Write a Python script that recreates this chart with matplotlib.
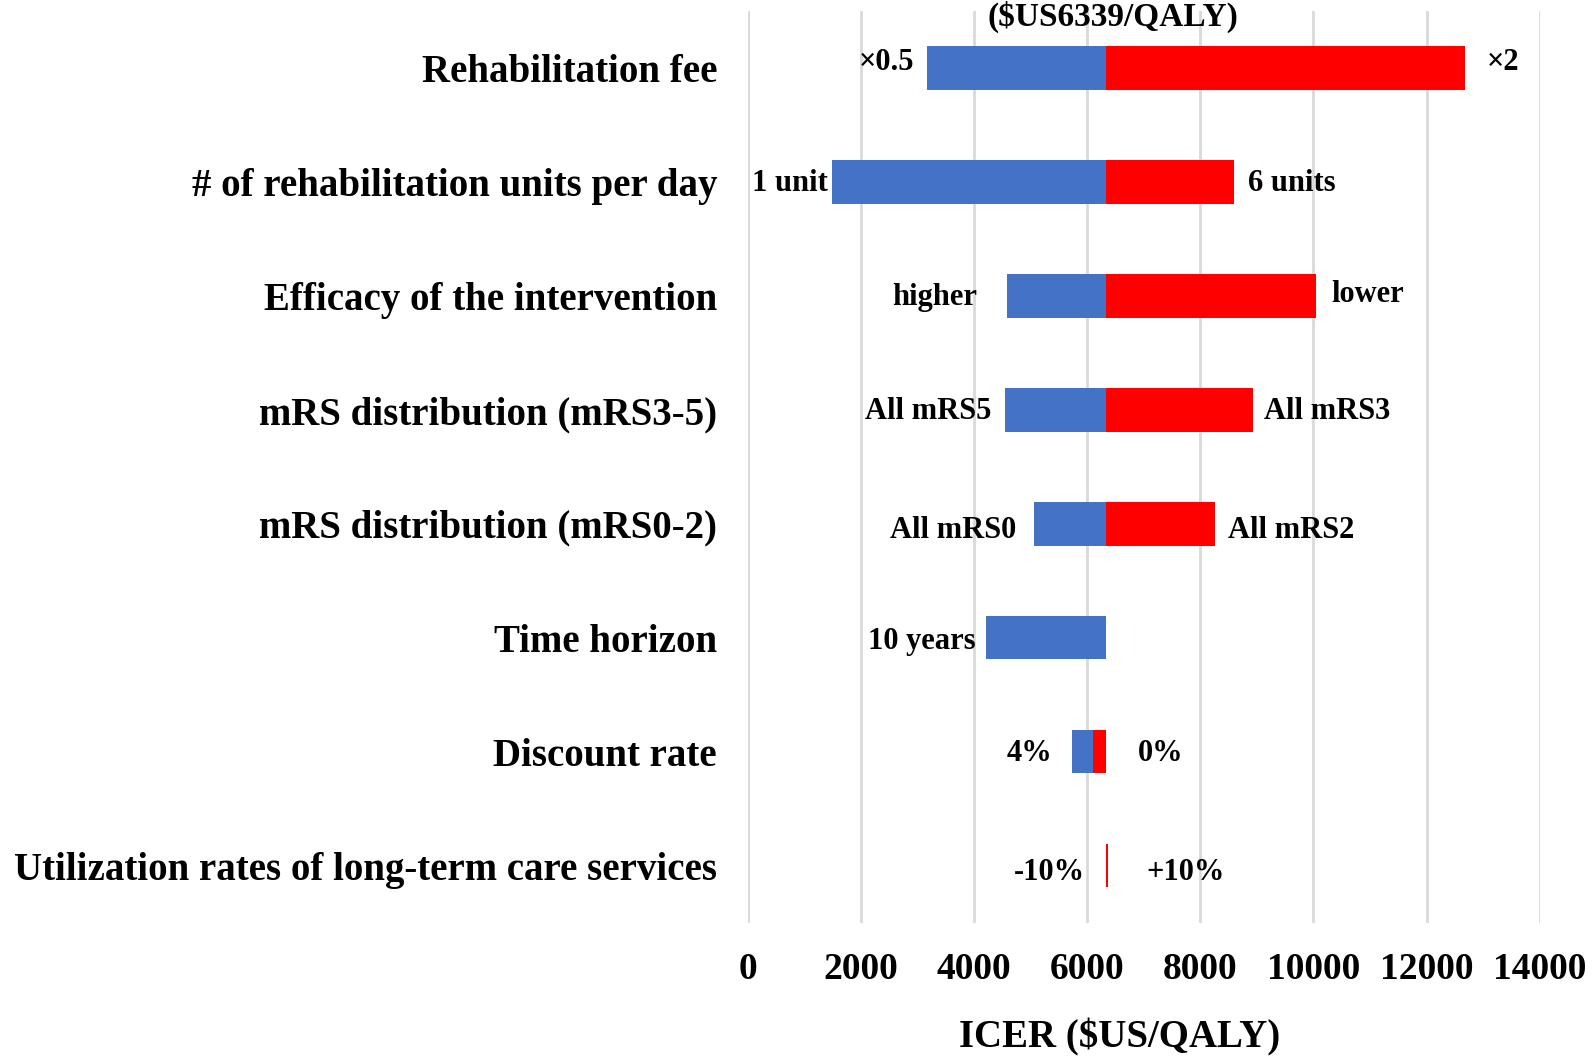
# Tornado diagram: one-way sensitivity analysis of the ICER

import matplotlib.pyplot as plt

# data
base = 6339
params = ['Rehabilitation fee', '# of rehabilitation units per day', 'Efficacy of the intervention',
          'mRS distribution (mRS3-5)', 'mRS distribution (mRS0-2)', 'Time horizon',
          'Discount rate', 'Utilization rates of long-term care services']
low_vals = [3170, 1490, 4580, 4550, 5070, 4205, 5730, 6339]     # blue bars
high_vals = [12678, 8590, 10045, 8930, 8265, None, 6110, 6365]  # red bars
low_labels = ['×0.5', '1 unit', 'higher', 'All mRS5', 'All mRS0', '10 years', '4%', '-10%']
high_labels = ['×2', '6 units', 'lower', 'All mRS3', 'All mRS2', '', '0%', '+10%']
xticks = [0, 2000, 4000, 6000, 8000, 10000, 12000, 14000]

# label offsets (points) from the bar ends: (dx, dy)
low_off = [(-9, 4), (-3, -1), (-21, -1), (-10, -1), (-13, -5), (-7, -3), (-14, -1), (-15, -5)]
high_off = [(16, 4), (10, -1), (11, 1), (8, -1), (9, -5), (0, 0), (23, -1), (28, -5)]

BLUE = '#4472C4'
RED = '#FF0000'
FONT = 'Liberation Serif'

plt.rcParams['font.family'] = FONT
plt.rcParams['font.weight'] = 'bold'

fig = plt.figure(figsize=(15.94, 10.63), dpi=100)
ax = fig.add_axes([0.469, 0.132, 0.497, 0.8575])

h = 0.38
for i in range(len(params)):
    lo = low_vals[i]
    hi = high_vals[i]
    ax.barh(i, base - lo, left=lo, height=h, color=BLUE, zorder=3)
    if hi is not None:
        ax.barh(i, abs(hi - base), left=min(hi, base), height=h, color=RED, zorder=4)
    ends = [lo, base] + ([hi] if hi is not None else [])
    # etiquetas junto a las barras
    ax.annotate(low_labels[i], xy=(min(ends), i), xytext=low_off[i], textcoords='offset points',
                ha='right', va='center', fontsize=22, fontweight='bold')
    if high_labels[i]:
        ax.annotate(high_labels[i], xy=(max(ends), i), xytext=high_off[i], textcoords='offset points',
                    ha='left', va='center', fontsize=22, fontweight='bold')

ax.text(base + 110, -0.45, f'($US{base}/QALY)', ha='center', va='center', fontsize=24, fontweight='bold')

ax.set_xlim(0, 14000)
ax.set_ylim(len(params) - 0.5, -0.5)
ax.set_yticks(range(len(params)))
ax.set_yticklabels(params, fontsize=28, fontweight='bold')
ax.set_xticks(xticks)
ax.set_xticklabels([str(t) for t in xticks], fontsize=27, fontweight='bold')
ax.tick_params(axis='y', length=0, pad=22)
ax.tick_params(axis='x', length=0, pad=21)

ax.grid(axis='x', color='#D9D9D9', linewidth=2, zorder=0)
ax.set_axisbelow(True)
for s in ax.spines.values():
    s.set_visible(False)

ax.set_xlabel('ICER ($US/QALY)', fontsize=28, fontweight='bold')
ax.xaxis.set_label_coords(0.47, -0.105)

fig.savefig('out.png', dpi=100)
